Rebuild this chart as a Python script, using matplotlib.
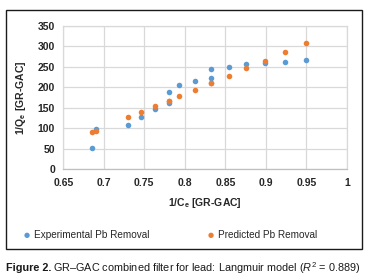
import matplotlib
matplotlib.use("Agg")
import matplotlib.pyplot as plt
from matplotlib.patches import Rectangle

# Experimental and predicted 1/Qe vs 1/Ce values
exp_x = [0.685, 0.690, 0.730, 0.746, 0.763, 0.780, 0.780, 0.7925,
         0.812, 0.832, 0.832, 0.854, 0.876, 0.899, 0.924, 0.950]
exp_y = [52, 98, 107, 128, 147, 188, 161, 205,
         215, 245, 223, 250, 256, 259, 262, 267]
pred_x = [0.685, 0.690, 0.730, 0.746, 0.763, 0.780, 0.780, 0.7925,
          0.812, 0.832, 0.832, 0.854, 0.876, 0.899, 0.924, 0.950]
pred_y = [90, 93, 127, 140, 154, 167, 167, 178,
          193, 211, 211, 227, 246, 265, 285, 307]

x_ticks = [0.65, 0.7, 0.75, 0.8, 0.85, 0.9, 0.95, 1]
x_labels = ["0.65", "0.7", "0.75", "0.8", "0.85", "0.9", "0.95", "1"]
y_ticks = [0, 50, 100, 150, 200, 250, 300, 350]

BLUE = "#5B9BD5"
ORANGE = "#ED7D31"
GRID = "#D9D9D9"
TXT = "#262626"
FONT = "Liberation Sans"

plt.rcParams["mathtext.fontset"] = "custom"
plt.rcParams["mathtext.rm"] = FONT
plt.rcParams["mathtext.it"] = FONT + ":italic"
plt.rcParams["mathtext.bf"] = FONT + ":bold"

fig = plt.figure(figsize=(3.69, 2.78), dpi=100)
ax = fig.add_axes([0.1715, 0.391, 0.7685, 0.5166])

ax.scatter(exp_x, exp_y, s=16, color=BLUE, zorder=3, linewidths=0,
           label="Experimental Pb Removal")
ax.scatter(pred_x, pred_y, s=16, color=ORANGE, zorder=3, linewidths=0,
           label="Predicted Pb Removal")

ax.set_xlim(0.65, 1.0)
ax.set_ylim(0, 350)
ax.set_xticks(x_ticks)
ax.set_xticklabels(x_labels)
ax.set_yticks(y_ticks)
ax.grid(True, color=GRID, linewidth=0.9)
ax.set_axisbelow(True)
for s in ax.spines.values():
    s.set_color(GRID)
    s.set_linewidth(0.9)
ax.spines["bottom"].set_color("#BFBFBF")
ax.tick_params(length=0, pad=6, labelsize=7.5, colors=TXT)
for lab in ax.get_xticklabels() + ax.get_yticklabels():
    lab.set_fontweight("bold")
    lab.set_fontfamily(FONT)

ax.set_xlabel(r"1/C$_\mathbf{e}$ [GR-GAC]", fontsize=7.5, fontweight="bold",
              color=TXT, family=FONT, labelpad=6)
ax.set_ylabel(r"1/Q$_\mathbf{e}$ [GR-GAC]", fontsize=7.5, fontweight="bold",
              color=TXT, family=FONT)
ax.yaxis.set_label_coords(-0.125, 0.5)

# Legend entries spread across the bottom of the chart box
fig.text(0.073, 0.154, "\u25CF", color=BLUE, fontsize=5, va="center", ha="center")
fig.text(0.093, 0.154, "Experimental Pb Removal", color=TXT, fontsize=7.2,
         va="center", family=FONT)
fig.text(0.572, 0.154, "\u25CF", color=ORANGE, fontsize=5, va="center", ha="center")
fig.text(0.592, 0.154, "Predicted Pb Removal", color=TXT, fontsize=7.2,
         va="center", family=FONT)

# Chart border
fig.patches.append(Rectangle((5.5 / 369, 1 - 249 / 278), 356 / 369, 239.5 / 278,
                             transform=fig.transFigure, fill=False,
                             edgecolor="#1a1a1a", linewidth=1.0))

# Caption
fig.canvas.draw()
r = fig.canvas.get_renderer()
t1 = fig.text(6 / 369, 1 - 268 / 278, "Figure 2.", fontsize=7.8, fontweight="bold",
              color="#1a1a1a", va="center", family=FONT)
bb = t1.get_window_extent(r)
fig.text((bb.x1 + 2) / 369, 1 - 268 / 278,
         "GR\u2013GAC combined filter for lead: Langmuir model ($R^2$ = 0.889)",
         fontsize=7.8, color="#1a1a1a", va="center", family=FONT)

fig.savefig("out.png", dpi=100)
